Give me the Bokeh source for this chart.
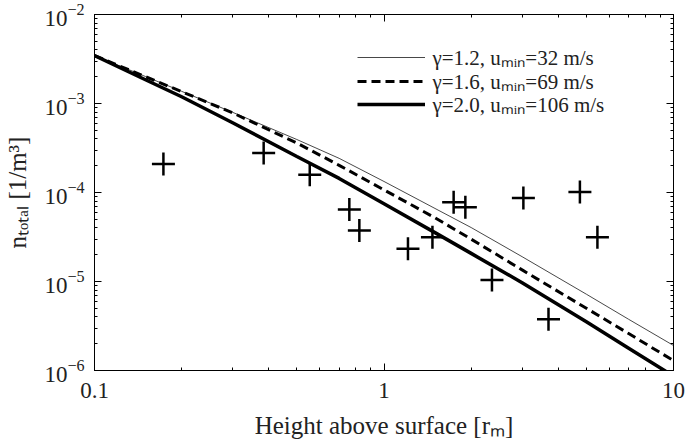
from bokeh.plotting import figure
from bokeh.models import (LogAxis, FixedTicker, LogTickFormatter, CustomJSTickFormatter,
                          Legend, LegendItem, Range1d)
from bokeh.embed import file_html
from bokeh.resources import INLINE

# ---- data ----
height_obs = [0.173, 0.384, 0.554, 0.759, 0.822, 1.21, 1.47, 1.74, 1.91, 2.36, 3.03, 3.70, 4.75, 5.46]
density_obs = [2.09e-4, 2.77e-4, 1.58e-4, 6.44e-5, 3.74e-5, 2.33e-5, 3.15e-5, 7.78e-5,
               6.84e-5, 1.04e-5, 8.67e-5, 3.76e-6, 1.01e-4, 3.15e-5]

model_height = [0.1, 0.15, 0.2, 0.3, 0.5, 0.7, 1, 1.5, 2, 3, 5, 7, 10]
n_gamma12 = [3.46e-3, 2.01e-3, 1.37e-3, 7.96e-4, 3.94e-4, 2.42e-4, 1.33e-4, 6.62e-5,
             4.04e-5, 1.9e-5, 7.2e-6, 3.76e-6, 1.91e-6]
n_gamma16 = [3.46e-3, 2.0e-3, 1.36e-3, 7.85e-4, 3.6e-4, 2.02e-4, 1.07e-4, 5.2e-5,
             2.99e-5, 1.35e-5, 5.0e-6, 2.6e-6, 1.29e-6]
n_gamma20 = [3.46e-3, 1.85e-3, 1.19e-3, 6.07e-4, 2.54e-4, 1.44e-4, 7.48e-5, 3.54e-5,
             2.07e-5, 9.7e-6, 3.52e-6, 1.78e-6, 8.65e-7]

series_labels = ["γ=1.2, uₘᵢₙ=32 m/s", "γ=1.6, uₘᵢₙ=69 m/s", "γ=2.0, uₘᵢₙ=106 m/s"]
x_title = "Height above surface [rₘ]"
y_title = "nₜₒₜₐₗ [1/m³]"

x_major = [0.1, 1, 10]
x_minor = [0.2, 0.3, 0.4, 0.5, 0.6, 0.7, 0.8, 0.9, 2, 3, 4, 5, 6, 7, 8, 9]
y_major = [1e-6, 1e-5, 1e-4, 1e-3, 1e-2]
y_minor = [m * 10.0 ** e for e in range(-6, -2) for m in range(2, 10)]

FONT = "Liberation Serif"
TXT = "#222222"

p = figure(width=685, height=446, x_axis_type="log", y_axis_type="log",
           x_range=Range1d(0.1, 10), y_range=Range1d(1e-6, 1e-2), title=None,
           output_backend="svg", toolbar_location=None,
           min_border_left=94, min_border_right=12, min_border_top=14, min_border_bottom=76)
p.grid.visible = False
p.outline_line_color = "black"
p.outline_line_width = 1
p.background_fill_color = "white"
p.border_fill_color = "white"


def style_axis(ax, major, minor, formatter):
    ax.ticker = FixedTicker(ticks=major, minor_ticks=minor)
    ax.formatter = formatter
    ax.major_tick_in = 7
    ax.major_tick_out = 0
    ax.minor_tick_in = 3
    ax.minor_tick_out = 0
    ax.axis_line_color = "black"
    ax.major_tick_line_color = "black"
    ax.minor_tick_line_color = "black"
    ax.major_label_text_font = FONT
    ax.major_label_text_font_size = "23px"
    ax.major_label_text_color = TXT
    ax.axis_label_text_font = FONT
    ax.axis_label_text_font_size = "25px"
    ax.axis_label_text_font_style = "normal"
    ax.axis_label_text_color = TXT


xa = p.xaxis[0]
style_axis(xa, x_major, x_minor, CustomJSTickFormatter(code="return tick.toString();"))
xa.axis_label = x_title
xa.major_label_standoff = 12
xa.axis_label_standoff = 11

ya = p.yaxis[0]
style_axis(ya, y_major, y_minor, LogTickFormatter())
ya.axis_label = y_title
ya.major_label_standoff = 10
ya.axis_label_standoff = 10

for side in ["above", "right"]:
    ax = LogAxis()
    style_axis(ax, x_major if side == "above" else y_major,
               x_minor if side == "above" else y_minor,
               CustomJSTickFormatter(code="return '';"))
    ax.major_label_text_font_size = "0px"
    ax.major_label_text_color = None
    ax.major_label_standoff = 0
    ax.axis_label_standoff = 0
    p.add_layout(ax, side)

r1 = p.line(model_height, n_gamma12, line_width=0.9, line_color="#333333")
r2 = p.line(model_height, n_gamma16, line_width=3, line_color="black", line_dash="9 5")
r3 = p.line(model_height, n_gamma20, line_width=3.5, line_color="black")

p.scatter(height_obs, density_obs, marker="cross", size=23, line_width=2.5, line_color="black")

# legend: one row per legend so the row spacing can follow the reference
row_y = [298, 274, 251]
for r, lab, yy in zip([r1, r2, r3], series_labels, row_y):
    lg = Legend(items=[LegendItem(label=lab, renderers=[r])],
                location=(262.5, yy), label_text_font=FONT, label_text_font_size="21px",
                label_text_color=TXT, label_text_baseline="middle",
                glyph_width=68, glyph_height=30, label_height=30, spacing=0,
                padding=0, margin=0, border_line_color=None, background_fill_alpha=0,
                label_standoff=8)
    p.add_layout(lg)

open("out.html", "w").write(file_html(p, INLINE))
